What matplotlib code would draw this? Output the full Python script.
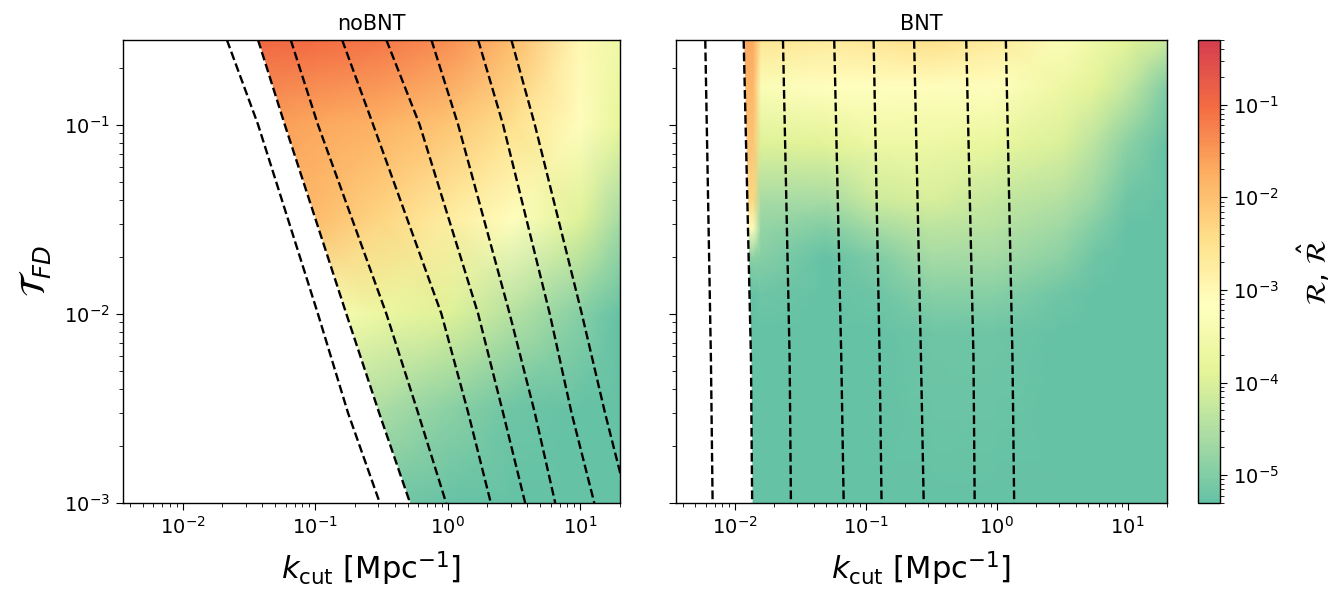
import numpy as np
import matplotlib
matplotlib.use("Agg")
import matplotlib.pyplot as plt
from matplotlib.colors import LogNorm, ListedColormap

# ---------------- data ----------------
# noBNT heat map: log10(R) on a coarse grid
nobnt_logk = [-1.5, -1.0, -0.5, 0.0, 0.5, 1.0, 1.3]
nobnt_logT = [-3.0, -2.5, -2.0, -1.5, -1.0, -0.55]
nobnt_logR = [
    [-4.8, -5.0, -5.15, -5.25, -5.3, -5.3, -5.3],
    [-4.0, -4.3, -4.55, -4.9, -5.2, -5.3, -5.3],
    [-3.0, -3.3, -3.7, -3.95, -4.45, -4.95, -5.3],
    [-1.85, -1.95, -2.3, -2.75, -3.2, -3.95, -4.6],
    [-1.5, -1.65, -1.8, -2.05, -2.5, -3.1, -3.8],
    [-0.95, -1.0, -1.15, -1.4, -1.95, -3.0, -3.6],
]

# BNT heat map: log10(R-hat) on a coarse grid
bnt_logk = [-1.95, -1.86, -1.8, -1.3, -0.9, -0.5, 0.0, 0.5, 0.75, 1.0, 1.3]
bnt_logT = [-3.0, -2.1, -1.9, -1.7, -1.55, -1.4, -1.1, -0.8, -0.55]
bnt_logR = [
    [-5.3, -5.3, -5.3, -5.3, -5.3, -5.3, -5.3, -5.3, -5.3, -5.3, -5.3],
    [-5.3, -5.3, -5.3, -5.3, -5.3, -5.2, -5.2, -5.3, -5.3, -5.3, -5.3],
    [-5.3, -5.3, -5.2, -5.3, -5.2, -4.95, -4.95, -5.2, -5.3, -5.3, -5.3],
    [-5.0, -4.9, -4.95, -5.3, -5.0, -4.6, -4.65, -4.9, -5.2, -5.3, -5.3],
    [-3.0, -3.1, -4.8, -5.0, -4.6, -4.35, -4.45, -4.7, -5.0, -5.3, -5.3],
    [-2.3, -2.35, -4.6, -4.6, -4.15, -4.05, -4.3, -4.5, -4.75, -5.2, -5.3],
    [-2.0, -2.05, -3.95, -3.9, -3.65, -3.65, -3.75, -4.0, -4.4, -4.9, -5.3],
    [-1.8, -1.85, -3.3, -3.15, -3.15, -3.1, -3.2, -3.65, -3.9, -4.3, -5.0],
    [-1.65, -1.7, -2.6, -2.7, -2.6, -2.45, -2.7, -3.3, -3.6, -3.9, -4.2],
]

# dashed contour lines: k_cut at the listed T_FD values
nobnt_line_T = [0.28, 0.1, 0.01, 0.003, 0.001]
nobnt_lines_k = [
    [0.0216, 0.0371, 0.105, 0.177, 0.308],
    [0.0371, 0.059, 0.172, 0.304, 0.521],
    [0.0655, 0.105, 0.345, 0.598, 0.975],
    [0.16, 0.274, 0.898, 1.43, 2.12],
    [0.345, 0.615, 1.70, 2.62, 3.85],
    [0.755, 1.20, 2.94, 4.55, 6.49],
    [1.70, 2.62, 5.90, 8.61, 12.8],
    [3.03, 4.55, 10.3, 15.4, 22.9],
]
bnt_line_T = [0.28, 0.0058, 0.001]
bnt_lines_k = [
    [0.00594, 0.00656, 0.00676],
    [0.01167, 0.01327, 0.01355],
    [0.0233, 0.0262, 0.0268],
    [0.0574, 0.065, 0.0678],
    [0.1148, 0.1276, 0.132],
    [0.234, 0.264, 0.277],
    [0.585, 0.665, 0.679],
    [1.175, 1.32, 1.36],
]
mask_line_index = 1  # region left of the 2nd dashed line is empty

titles = ["noBNT", "BNT"]
xlim = (3.55e-3, 20.0)
ylim = (1e-3, 0.28)
vmin, vmax = 5e-6, 0.5

# ---------------- plotting ----------------
plt.rcParams["xtick.major.size"] = 5
plt.rcParams["ytick.major.size"] = 5
plt.rcParams["xtick.minor.size"] = 2.8
plt.rcParams["ytick.minor.size"] = 2.8
plt.rcParams["xtick.major.pad"] = 4.5
plt.rcParams["ytick.major.pad"] = 4.5
plt.rcParams["axes.linewidth"] = 1.0

cmap = ListedColormap(plt.cm.Spectral_r(np.linspace(0.2, 0.9, 256)))
norm = LogNorm(vmin=vmin, vmax=vmax)

fig = plt.figure(figsize=(13.4, 5.93), dpi=100)
W, H = 1340.0, 593.0
ax1 = fig.add_axes([123 / W, 1 - 503 / H, 497 / W, 463 / H])
ax2 = fig.add_axes([676 / W, 1 - 503 / H, 491 / W, 463 / H], sharey=ax1)
cax = fig.add_axes([1198 / W, 1 - 503 / H, 22 / W, 463 / H])

panels = [
    (ax1, nobnt_logk, nobnt_logT, nobnt_logR, nobnt_line_T, nobnt_lines_k, titles[0]),
    (ax2, bnt_logk, bnt_logT, bnt_logR, bnt_line_T, bnt_lines_k, titles[1]),
]

mesh = None
for ax, lk, lT, lR, lineT, linesk, title in panels:
    K, T = np.meshgrid(10.0 ** np.array(lk), 10.0 ** np.array(lT))
    R = 10.0 ** np.array(lR)
    mesh = ax.pcolormesh(K, T, R, cmap=cmap, norm=norm, shading="gouraud",
                         zorder=1, rasterized=True)
    ax.set_xscale("log")
    ax.set_yscale("log")
    # blank region left of the boundary line
    bk = linesk[mask_line_index]
    ax.fill_betweenx(lineT, [xlim[0] * 0.5] * len(lineT), bk,
                     color="white", lw=0, zorder=2)
    for kk in linesk:
        ax.plot(kk, lineT, ls="--", color="black", lw=1.7, zorder=3)
    ax.set_xlim(*xlim)
    ax.set_ylim(*ylim)
    ax.set_title(title, fontsize=15, pad=7)
    ax.set_xlabel(r"$k_{\rm cut}$ [Mpc$^{-1}$]", fontsize=22, labelpad=8)
    ax.tick_params(axis="both", which="major", labelsize=14)

ax1.set_ylabel(r"$\mathcal{T}_{FD}$", fontsize=25, labelpad=8)
plt.setp(ax2.get_yticklabels(), visible=False)

cb = fig.colorbar(mesh, cax=cax)
cb.set_label(r"$\mathcal{R}$, $\hat{\mathcal{R}}$", fontsize=20, labelpad=12)
cb.ax.tick_params(labelsize=14)

fig.savefig("out.png", dpi=100)
